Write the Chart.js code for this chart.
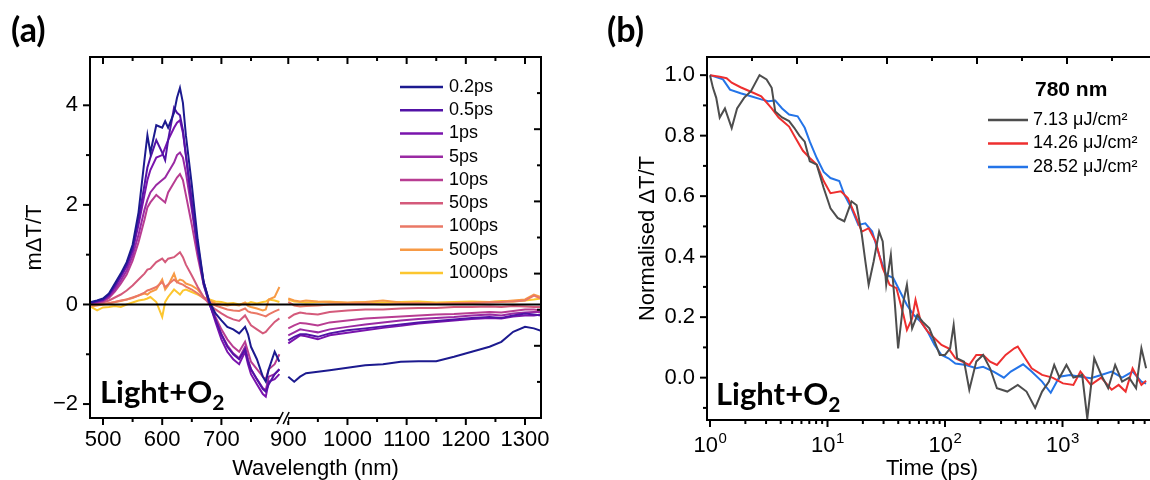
<!DOCTYPE html>
<html>
<head>
<meta charset="utf-8">
<script src="https://cdn.jsdelivr.net/npm/chart.js@4.4.1/dist/chart.umd.min.js"></script>
<style>
  html, body { margin: 0; padding: 0; background: #fff; }
  #wrap { position: relative; width: 1150px; height: 480px; overflow: hidden; }
  canvas { position: absolute; top: 0; }
  #chartA { left: 0; }
  #chartB { left: 575px; }
  .tag { position: absolute; font-family: Lato, 'Open Sans', sans-serif; font-weight: 700; color: #000; line-height: 1; white-space: nowrap; }
  .tag .sub { position: relative; top: 7px; font-size: 21px; }
</style>
</head>
<body>
<div id="wrap">
  <canvas id="chartA" width="575" height="480"></canvas>
  <canvas id="chartB" width="620" height="480"></canvas>
  <div class="tag" style="left:11px;top:12px;font-size:34px">(a)</div>
  <div class="tag" style="left:607px;top:12px;font-size:34px">(b)</div>
  <div class="tag" style="left:100px;top:376px;font-size:31px">Light+O<span class="sub">2</span></div>
  <div class="tag" style="left:716px;top:378px;font-size:31px">Light+O<span class="sub">2</span></div>
</div>
<script>
// ---------- panel (a): transient spectra ----------
const delays = ['0.2ps', '0.5ps', '1ps', '5ps', '10ps', '50ps', '100ps', '500ps', '1000ps'];
const delayColors = ['#1c1a8f', '#5213a6', '#7a14ad', '#9a2aa3', '#b83d92', '#d45a7b', '#ea7866', '#f79a45', '#fcc62f'];

const wlLeft = [480, 490, 500, 510, 520, 530, 540, 550, 560, 570, 575, 580, 590, 600, 605, 610, 620, 625, 630, 635, 640,
  650, 660, 670, 680, 690, 700, 710, 720, 730, 740, 745, 750, 760, 770, 775, 780, 790, 798];
const wlRight = [900, 910, 920, 930, 950, 970, 1000, 1030, 1060, 1090, 1120, 1150, 1180, 1210, 1240, 1260, 1280, 1300, 1315, 1327];

const left02 = [0.05, 0.08, 0.12, 0.22, 0.42, 0.62, 0.85, 1.2, 1.85, 2.9, 3.4, 3.05, 3.6, 3.55, 3.68, 3.55, 3.85, 4.15, 4.35, 4.05, 3.4,
  2.4, 1.3, 0.45, 0.05, -0.18, -0.32, -0.45, -0.5, -0.58, -0.45, -0.6, -0.85, -1.1, -1.45, -1.55, -1.3, -0.95, -1.15];
const right02 = [-1.45, -1.55, -1.45, -1.38, -1.35, -1.32, -1.27, -1.22, -1.2, -1.15, -1.14, -1.14, -1.05, -0.95, -0.85, -0.75, -0.55, -0.45, -0.48, -0.53];

const left05 = [0.04, 0.07, 0.1, 0.2, 0.38, 0.58, 0.8, 1.12, 1.7, 2.4, 2.75, 2.95, 3.3, 3.05, 2.9, 3.3, 3.95, 3.85, 3.8, 3.5, 3.0,
  2.0, 1.1, 0.4, 0.0, -0.3, -0.6, -0.85, -1.0, -1.1, -0.9, -1.15, -1.3, -1.5, -1.7, -1.75, -1.6, -1.4, -1.3];
const right05 = [-0.72, -0.65, -0.6, -0.6, -0.65, -0.58, -0.52, -0.48, -0.44, -0.4, -0.36, -0.33, -0.3, -0.27, -0.25, -0.27, -0.22, -0.18, -0.2, -0.22];

const left1 = [0.04, 0.06, 0.09, 0.18, 0.35, 0.55, 0.76, 1.08, 1.6, 2.2, 2.5, 2.7, 2.95, 3.0, 3.15, 3.3, 3.55, 3.65, 3.7, 3.45, 3.0,
  2.1, 1.2, 0.45, 0.02, -0.35, -0.7, -0.95, -1.1, -1.2, -0.95, -1.2, -1.4, -1.6, -1.8, -1.85, -1.55, -1.5, -1.4];
const right1 = [-0.78, -0.7, -0.62, -0.64, -0.7, -0.62, -0.57, -0.52, -0.47, -0.43, -0.38, -0.35, -0.32, -0.29, -0.27, -0.28, -0.24, -0.22, -0.22, -0.2];

const left5 = [0.03, 0.05, 0.08, 0.16, 0.3, 0.48, 0.68, 0.98, 1.4, 1.9, 2.1, 2.25, 2.4, 2.5, 2.55, 2.65, 2.85, 3.0, 3.05, 2.95, 2.65,
  1.9, 1.1, 0.45, 0.02, -0.3, -0.6, -0.82, -0.98, -1.08, -0.85, -1.1, -1.3, -1.5, -1.68, -1.72, -1.45, -1.4, -1.3];
const right5 = [-0.62, -0.56, -0.5, -0.52, -0.56, -0.5, -0.45, -0.4, -0.36, -0.32, -0.29, -0.27, -0.25, -0.22, -0.2, -0.22, -0.18, -0.16, -0.15, -0.15];

const left10 = [0.02, 0.04, 0.06, 0.13, 0.26, 0.42, 0.6, 0.88, 1.25, 1.7, 1.95, 2.05, 2.2, 2.1, 2.05, 2.25, 2.45, 2.55, 2.62, 2.5, 2.2,
  1.6, 0.95, 0.4, 0.02, -0.25, -0.5, -0.7, -0.85, -0.95, -0.75, -0.95, -1.15, -1.3, -1.45, -1.5, -1.3, -1.2, -1.0];
const right10 = [-0.48, -0.42, -0.37, -0.38, -0.42, -0.36, -0.32, -0.28, -0.26, -0.24, -0.22, -0.2, -0.19, -0.17, -0.15, -0.16, -0.13, -0.1, -0.1, -0.12];

const left50 = [0.0, 0.02, 0.04, 0.08, 0.14, 0.2, 0.28, 0.38, 0.5, 0.62, 0.7, 0.72, 0.85, 0.92, 0.85, 0.92, 0.95, 1.0, 1.05, 0.95, 0.8,
  0.58, 0.35, 0.15, 0.0, -0.1, -0.18, -0.25, -0.3, -0.33, -0.22, -0.32, -0.42, -0.5, -0.58, -0.55, -0.48, -0.35, -0.28];
const right50 = [-0.28, -0.2, -0.16, -0.18, -0.2, -0.15, -0.12, -0.1, -0.1, -0.08, -0.07, -0.07, -0.05, -0.05, -0.04, -0.05, -0.03, -0.04, -0.05, -0.05];

const left100 = [0.0, 0.0, 0.01, 0.03, 0.05, 0.08, 0.1, 0.14, 0.18, 0.24, 0.28, 0.3, 0.35, 0.45, 0.35, 0.4, 0.5, 0.45, 0.42, 0.4, 0.36,
  0.3, 0.22, 0.12, 0.04, -0.02, -0.06, -0.1, -0.12, -0.13, -0.08, -0.14, -0.16, -0.18, -0.22, -0.24, -0.2, -0.14, -0.1];
const right100 = [0.05, -0.02, -0.04, -0.03, -0.02, 0.0, 0.01, 0.02, 0.0, 0.01, 0.02, 0.01, 0.02, 0.03, 0.04, 0.05, 0.06, 0.08, 0.18, 0.12];

const left500 = [-0.04, -0.02, 0.0, 0.02, 0.05, 0.07, 0.1, 0.13, 0.18, 0.22, 0.2, 0.25, 0.3, 0.5, 0.3, 0.38, 0.62, 0.45, 0.5, 0.48, 0.42,
  0.38, 0.3, 0.15, 0.08, 0.02, 0.0, -0.02, 0.0, -0.02, 0.04, -0.03, -0.05, -0.08, -0.12, -0.1, 0.1, 0.15, 0.35];
const right500 = [0.12, 0.08, 0.06, 0.08, 0.06, 0.05, 0.04, 0.05, 0.08, 0.04, 0.03, 0.02, 0.03, 0.04, 0.05, 0.06, 0.08, 0.1, 0.2, 0.15];

const left1000 = [-0.05, -0.12, -0.06, -0.05, -0.03, -0.05, 0.0, 0.04, 0.08, 0.1, 0.12, 0.15, 0.05, -0.25, 0.05, 0.15, 0.3, 0.25, 0.2, 0.28, 0.3,
  0.25, 0.2, 0.14, 0.1, 0.06, 0.05, 0.02, 0.03, 0.0, 0.03, 0.02, 0.05, 0.02, 0.05, 0.06, 0.1, 0.08, 0.05];
const right1000 = [0.1, 0.06, 0.05, 0.04, 0.05, 0.06, 0.03, 0.05, 0.04, 0.05, 0.06, 0.04, 0.05, 0.06, 0.05, 0.07, 0.06, 0.08, 0.1, 0.12];

const leftSeries = [left02, left05, left1, left5, left10, left50, left100, left500, left1000];
const rightSeries = [right02, right05, right1, right5, right10, right50, right100, right500, right1000];

const wlTicksMajor = [500, 600, 700, 900, 1000, 1100, 1200, 1300];
const wlTicksMinor = [550, 650, 750, 950, 1050, 1150, 1250];
const dTTicksMajor = [-2, 0, 2, 4];
const dTTicksMinor = [-1, 1, 3];

// broken wavelength axis: 800 | 900 gap squeezed to a few pixels
const BREAK_SHIFT = 87;
const BREAK_AT = 806;
const toAxisA = (wl) => (wl >= 850 ? wl - BREAK_SHIFT : wl);
const fromAxisA = (x) => (x > BREAK_AT ? x + BREAK_SHIFT : x);
const xMinA = 478, xMaxA = toAxisA(1327);

// ---------- panel (b): kinetics at 780 nm ----------
const fluences = ['7.13 μJ/cm²', '14.26 μJ/cm²', '28.52 μJ/cm²'];
const fluenceColors = ['#4d4d4d', '#ee2f2f', '#2474e8'];

const timeGray = [1, 1.06, 1.13, 1.21, 1.34, 1.53, 1.70, 1.95, 2.23, 2.64, 3.03, 3.35, 3.59, 4.11, 4.71, 5.21, 5.77, 6.40, 7.07, 8.1,
  9.28, 10.6, 12.2, 13.9, 16.0, 17.7, 19.6, 21.0, 22.4, 24.7, 27.5, 29.5, 31.6, 34.6, 37.3, 39.9, 44.3, 47.4, 52.5, 58.1,
  64.4, 73.6, 81.5, 90.3, 100, 110.6, 118.5, 126.8, 145.4, 161, 184.6, 211, 241.7, 276.7, 339, 416, 494, 585, 670, 767,
  850, 942, 1080, 1238, 1470, 1625, 1862, 2134, 2447, 2806, 3216, 3688, 4228, 4693, 5145];
const normGray = [1.0, 0.958, 0.925, 0.86, 0.89, 0.825, 0.89, 0.925, 0.947, 1.0, 0.986, 0.958, 0.88, 0.86, 0.848, 0.826, 0.8, 0.78, 0.715, 0.704,
  0.627, 0.56, 0.528, 0.517, 0.583, 0.57, 0.472, 0.384, 0.307, 0.384, 0.483, 0.45, 0.307, 0.406, 0.252, 0.097, 0.252, 0.307, 0.163, 0.207,
  0.185, 0.163, 0.12, 0.075, 0.075, 0.097, 0.174, 0.064, 0.053, -0.04, 0.053, 0.075, 0.031, -0.035, -0.046, -0.024, -0.046, -0.1, -0.046, -0.013,
  0.042, 0.0, 0.042, 0.0, 0.009, -0.135, 0.064, 0.009, -0.035, 0.042, -0.013, 0.0, -0.035, 0.097, 0.031];

const timeRed = [1, 1.21, 1.385, 1.53, 1.82, 2.23, 2.73, 3.35, 3.84, 4.71, 5.39, 6.18, 7.07, 8.1, 9.28, 10.6, 13.0, 14.9, 17.1, 19.6,
  22.4, 25.7, 29.5, 33.8, 38.6, 44.3, 47.4, 52.5, 56.1, 62.2, 71.3, 81.5, 93.4, 107, 122.6, 140.5, 161, 184.6, 211, 241.7,
  276.7, 328, 389, 416, 462, 546, 670, 822, 1009, 1238, 1420, 1741, 2134, 2620, 3004, 3444, 3948, 4693, 5145];
const normRed = [1.0, 0.995, 0.99, 0.975, 0.96, 0.945, 0.93, 0.89, 0.86, 0.83, 0.79, 0.75, 0.726, 0.704, 0.65, 0.61, 0.616, 0.594, 0.54, 0.483,
  0.494, 0.45, 0.362, 0.307, 0.296, 0.207, 0.158, 0.196, 0.257, 0.185, 0.152, 0.13, 0.108, 0.097, 0.064, 0.053, 0.042, 0.075, 0.075, 0.053,
  0.042, 0.075, 0.097, 0.103, 0.075, 0.031, 0.009, 0.0, -0.019, -0.024, 0.02, -0.024, 0.0, -0.04, -0.024, -0.046, 0.031, -0.024, -0.01];

const timeBlue = [1, 1.29, 1.48, 1.82, 2.23, 2.73, 3.13, 3.59, 4.11, 4.71, 5.57, 6.40, 7.07, 8.1, 9.28, 10.6, 12.6, 13.9, 16.0, 18.3,
  21.0, 24.0, 27.5, 31.6, 36.2, 41.4, 47.4, 54.3, 62.2, 71.3, 81.5, 93.4, 107, 122.6, 150.5, 184.6, 211, 259, 317, 363,
  462, 546, 670, 794, 942, 1157, 1420, 1741, 2134, 2620, 3216, 3948, 4693, 5145];
const normBlue = [1.0, 0.986, 0.952, 0.94, 0.93, 0.92, 0.914, 0.916, 0.89, 0.87, 0.864, 0.826, 0.78, 0.726, 0.68, 0.66, 0.65, 0.605, 0.56, 0.505,
  0.51, 0.483, 0.406, 0.34, 0.33, 0.285, 0.24, 0.207, 0.185, 0.152, 0.108, 0.075, 0.064, 0.047, 0.042, 0.031, 0.036, 0.02, 0.0, 0.02,
  0.044, 0.02, -0.013, -0.05, 0.003, 0.009, 0.003, -0.002, 0.009, 0.02, 0.0, 0.02, -0.013, -0.02];

const timeTicksMajor = [1, 10, 100, 1000];
const timeTicksMinor = [2, 3, 4, 5, 6, 7, 8, 9, 20, 30, 40, 50, 60, 70, 80, 90, 200, 300, 400, 500, 600, 700, 800, 900, 2000, 3000, 4000, 5000, 6000];
const normTicksMajor = [0, 0.2, 0.4, 0.6, 0.8, 1.0];
const normTicksMinor = [-0.1, 0.1, 0.3, 0.5, 0.7, 0.9];

// ---------- helpers ----------
const FAMILY = "'Liberation Sans', Arial, sans-serif";
const tickFont = { family: FAMILY, size: 22 };

// frame with outward ticks on bottom/left and inward ticks on top/right
const frameTicks = {
  id: 'frameTicks',
  afterDatasetsDraw(chart, args, o) {
    const { ctx, chartArea: a } = chart;
    const sx = chart.scales[o.xTop || 'x'];
    const sy = chart.scales[o.yRight || 'y'];
    ctx.save();
    ctx.strokeStyle = '#000';
    ctx.lineWidth = 2;
    ctx.lineCap = 'butt';
    const seg = (x1, y1, x2, y2) => { ctx.beginPath(); ctx.moveTo(x1, y1); ctx.lineTo(x2, y2); ctx.stroke(); };
    const bx = chart.scales.x, ly = chart.scales.y;
    const inX = (p) => p >= a.left - 0.5 && p <= a.right + 0.5;
    const inY = (p) => p >= a.top - 0.5 && p <= a.bottom + 0.5;
    (o.bottomMajor || []).forEach(v => { const p = bx.getPixelForValue(v); if (inX(p)) seg(p, a.bottom, p, a.bottom + 7); });
    (o.bottomMinor || []).forEach(v => { const p = bx.getPixelForValue(v); if (inX(p)) seg(p, a.bottom, p, a.bottom + 4); });
    (o.leftMajor || []).forEach(v => { const p = ly.getPixelForValue(v); if (inY(p)) seg(a.left, p, a.left - 7, p); });
    (o.leftMinor || []).forEach(v => { const p = ly.getPixelForValue(v); if (inY(p)) seg(a.left, p, a.left - 4, p); });
    (o.topMajor || []).forEach(v => { const p = sx.getPixelForValue(v); if (inX(p)) seg(p, a.top, p, a.top + 7); });
    (o.topMinor || []).forEach(v => { const p = sx.getPixelForValue(v); if (inX(p)) seg(p, a.top, p, a.top + 4); });
    (o.rightMajor || []).forEach(v => { const p = sy.getPixelForValue(v); if (inY(p)) seg(a.right, p, a.right - 7, p); });
    (o.rightMinor || []).forEach(v => { const p = sy.getPixelForValue(v); if (inY(p)) seg(a.right, p, a.right - 4, p); });
    ctx.strokeRect(a.left, a.top, a.right - a.left, a.bottom - a.top);
    if (o.breakAt !== undefined) {
      const p = bx.getPixelForValue(o.breakAt);
      ctx.fillStyle = '#fff';
      ctx.fillRect(p - 4, a.bottom - 3, 8, 6);
      ctx.lineWidth = 1.6;
      seg(p - 7, a.bottom + 6, p - 1, a.bottom - 6);
      seg(p - 1, a.bottom + 6, p + 5, a.bottom - 6);
    }
    // decade labels 10^n with a real raised exponent
    if (o.powerLabels) {
      ctx.fillStyle = '#000';
      ctx.textBaseline = 'alphabetic';
      o.powerLabels.forEach(v => {
        const p = bx.getPixelForValue(v);
        const e = String(Math.round(Math.log10(v)));
        ctx.font = '22px ' + FAMILY;
        const w1 = ctx.measureText('10').width;
        ctx.font = '15px ' + FAMILY;
        const w2 = ctx.measureText(e).width;
        const x0 = p - (w1 + w2) / 2;
        ctx.font = '22px ' + FAMILY;
        ctx.fillText('10', x0, a.bottom + 32);
        ctx.font = '15px ' + FAMILY;
        ctx.fillText(e, x0 + w1 + 0.5, a.bottom + 23);
      });
    }
    ctx.restore();
  }
};

// legend drawn inside the plot
const insideLegend = {
  id: 'insideLegend',
  afterDraw(chart, args, o) {
    if (!o.display) return;
    const { ctx } = chart;
    ctx.save();
    if (o.title) {
      ctx.font = o.titleFont;
      ctx.fillStyle = '#000';
      ctx.textBaseline = 'middle';
      ctx.fillText(o.title, o.titleX, o.titleY);
    }
    ctx.font = o.font;
    ctx.textBaseline = 'middle';
    let row = 0;
    chart.data.datasets.forEach(ds => {
      if (ds.inLegend === false) return;
      const y = o.y0 + row * o.dy;
      ctx.strokeStyle = ds.borderColor;
      ctx.lineWidth = 2.5;
      ctx.beginPath(); ctx.moveTo(o.x1, y); ctx.lineTo(o.x2, y); ctx.stroke();
      ctx.fillStyle = '#000';
      ctx.fillText(ds.label, o.textX, y);
      row++;
    });
    ctx.restore();
  }
};

Chart.register(frameTicks, insideLegend);

// ---------- chart (a) ----------
const spectraSets = delays.map((d, i) => {
  const pts = wlLeft.map((wl, k) => ({ x: toAxisA(wl), y: leftSeries[i][k] }));
  pts.push({ x: BREAK_AT, y: null });
  wlRight.forEach((wl, k) => pts.push({ x: toAxisA(wl), y: rightSeries[i][k] }));
  return { label: d, data: pts, borderColor: delayColors[i], borderWidth: 2, spanGaps: false };
});
spectraSets.push({
  label: 'zero', inLegend: false, data: [{ x: xMinA, y: 0 }, { x: xMaxA, y: 0 }],
  borderColor: '#000', borderWidth: 2, order: -1
});

new Chart(document.getElementById('chartA'), {
  type: 'line',
  data: { datasets: spectraSets },
  options: {
    responsive: false,
    animation: false,
    layout: { padding: { top: 57, right: 34, left: 0, bottom: 0 } },
    elements: { point: { radius: 0 }, line: { tension: 0 } },
    plugins: {
      legend: { display: false },
      tooltip: { enabled: false },
      frameTicks: {
        bottomMajor: wlTicksMajor.map(toAxisA), bottomMinor: wlTicksMinor.map(toAxisA),
        leftMajor: dTTicksMajor, leftMinor: dTTicksMinor,
        topMajor: wlTicksMajor.map(toAxisA), topMinor: wlTicksMinor.map(toAxisA),
        rightMajor: [1, 2, 3, 4], rightMinor: [0.5, 1.5, 2.5, 3.5, 4.5], yRight: 'y2',
        breakAt: BREAK_AT
      },
      insideLegend: {
        display: true, font: '18px ' + FAMILY,
        x1: 400, x2: 443, textX: 449, y0: 87, dy: 23.25
      }
    },
    scales: {
      x: {
        type: 'linear', min: xMinA, max: xMaxA,
        grid: { display: false, drawTicks: false }, border: { display: false },
        afterFit(s) { s.height = 62; },
        afterBuildTicks(s) { s.ticks = wlTicksMajor.map(v => ({ value: toAxisA(v) })); },
        ticks: { font: tickFont, color: '#000', padding: 9, maxRotation: 0, autoSkip: false,
          callback: (v) => String(Math.round(fromAxisA(v))) },
        title: { display: true, text: 'Wavelength (nm)', color: '#000', padding: { top: 0, bottom: 0 },
          font: { family: FAMILY, size: 22, lineHeight: 1.05 } }
      },
      y: {
        type: 'linear', min: -2.28, max: 4.97,
        grid: { display: false, drawTicks: false }, border: { display: false },
        afterFit(s) { s.width = 90; },
        afterBuildTicks(s) { s.ticks = dTTicksMajor.map(v => ({ value: v })); },
        ticks: { font: tickFont, color: '#000', padding: 12,
          callback: (v) => (v < 0 ? '\u2212' + Math.abs(v) : String(v)) },
        title: { display: true, text: 'mΔT/T', color: '#000', padding: { top: 23, bottom: 0 },
          font: { family: FAMILY, size: 22, lineHeight: 1.05 } }
      },
      y2: { type: 'linear', display: false, min: 0, max: 5 }
    }
  }
});

// ---------- chart (b) ----------
const kineticSets = [
  { label: fluences[0], data: timeGray.map((t, k) => ({ x: t, y: normGray[k] })), borderColor: fluenceColors[0], borderWidth: 2 },
  { label: fluences[1], data: timeRed.map((t, k) => ({ x: t, y: normRed[k] })), borderColor: fluenceColors[1], borderWidth: 2 },
  { label: fluences[2], data: timeBlue.map((t, k) => ({ x: t, y: normBlue[k] })), borderColor: fluenceColors[2], borderWidth: 2 }
];

new Chart(document.getElementById('chartB'), {
  type: 'line',
  data: { datasets: kineticSets },
  options: {
    responsive: false,
    animation: false,
    layout: { padding: { top: 57, right: 38, left: 0, bottom: 0 } },
    elements: { point: { radius: 0 }, line: { tension: 0 } },
    plugins: {
      legend: { display: false },
      tooltip: { enabled: false },
      frameTicks: {
        bottomMajor: timeTicksMajor, bottomMinor: timeTicksMinor,
        leftMajor: normTicksMajor, leftMinor: normTicksMinor,
        topMajor: [2, 4, 6, 8], topMinor: [1, 3, 5, 7, 9], xTop: 'x2',
        powerLabels: timeTicksMajor
      },
      insideLegend: {
        display: true, font: '18px ' + FAMILY,
        title: '780 nm', titleFont: 'bold 21px ' + FAMILY, titleX: 460, titleY: 90,
        x1: 413, x2: 453, textX: 458, y0: 120, dy: 23.5
      }
    },
    scales: {
      x: {
        type: 'logarithmic', min: 0.943, max: 6370,
        grid: { display: false, drawTicks: false }, border: { display: false },
        afterFit(s) { s.height = 60; },
        afterBuildTicks(s) { s.ticks = timeTicksMajor.map(v => ({ value: v })); },
        ticks: { display: false },
        title: { display: true, text: 'Time (ps)', color: '#000', padding: { top: 0, bottom: 0 },
          font: { family: FAMILY, size: 22, lineHeight: 1.05 } }
      },
      y: {
        type: 'linear', min: -0.14, max: 1.06,
        grid: { display: false, drawTicks: false }, border: { display: false },
        afterFit(s) { s.width = 132; },
        afterBuildTicks(s) { s.ticks = normTicksMajor.map(v => ({ value: v })); },
        ticks: { font: tickFont, color: '#000', padding: 12, callback: (v) => v.toFixed(1) },
        title: { display: true, text: 'Normalised ΔT/T', color: '#000', padding: { top: 61, bottom: 0 },
          font: { family: FAMILY, size: 22, lineHeight: 1.05 } }
      },
      x2: { type: 'linear', display: false, min: 0, max: 10 }
    }
  }
});
</script>
</body>
</html>
